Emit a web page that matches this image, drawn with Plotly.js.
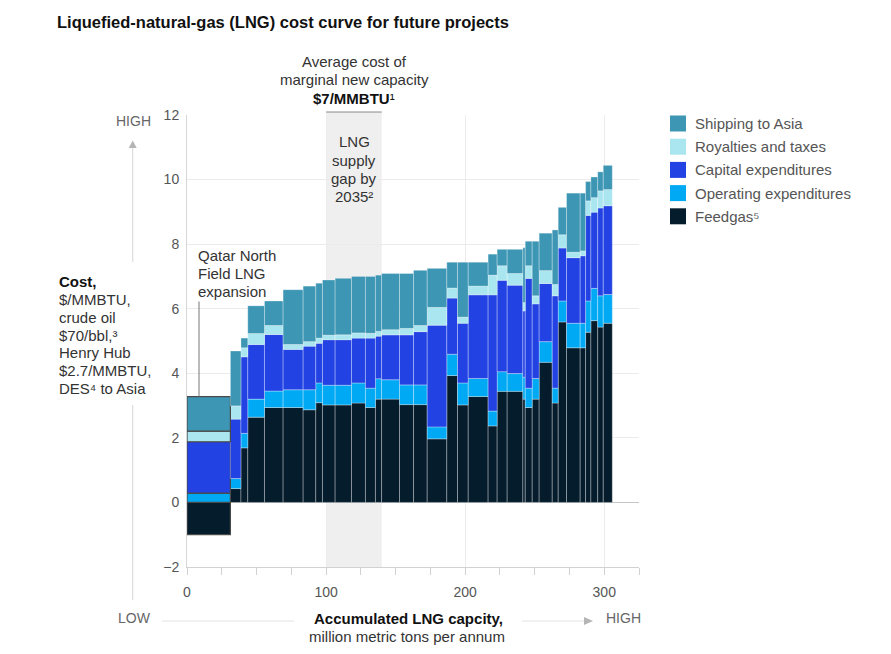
<!DOCTYPE html>
<html>
<head>
<meta charset="utf-8">
<script src="https://cdn.plot.ly/plotly-3.0.1.min.js"></script>
<style>html,body{margin:0;padding:0;background:#fff}#chart{width:891px;height:654px}</style>
</head>
<body>
<div id="chart"></div>
<script>
// Capacity of each project (million metric tons per annum) – bar widths along x
const capacity = [31.2,7.6,4.9,12.0,13.4,14.4,9.1,4.8,9.1,11.8,10.0,7.2,4.4,12.9,10.1,9.8,14.1,7.7,7.7,14.3,6.5,7.2,11.3,1.7,5.0,5.0,9.4,4.3,6.0,9.8,3.9,3.8,4.9,4.0,6.5];
// Cost components, $/MMBTU
const feedgas   = [-1.00,0.43,1.69,2.64,2.94,2.94,2.87,3.09,3.02,3.02,3.08,2.94,3.20,3.20,3.03,3.03,1.97,3.93,3.02,3.28,2.37,3.44,3.44,3.20,2.94,3.20,4.34,3.08,5.59,4.79,4.79,5.27,5.63,5.43,5.55];
const opex      = [0.29,0.31,0.45,0.56,0.51,0.55,0.62,0.61,0.61,0.61,0.62,0.60,0.63,0.60,0.61,0.61,0.37,0.66,0.68,0.56,0.46,0.61,0.55,0.68,0.60,0.64,0.64,0.46,0.65,0.76,0.76,0.97,1.00,0.97,0.89];
const capex     = [1.59,1.84,2.37,1.69,1.75,1.25,1.35,1.23,1.41,1.41,1.39,1.55,1.32,1.39,1.55,1.65,3.15,1.74,1.85,2.59,3.60,2.83,2.74,2.05,3.40,2.31,1.80,2.86,1.64,2.03,2.09,2.65,2.36,2.72,2.75];
const royalties = [0.33,0.41,0.28,0.34,0.28,0.15,0.14,0.16,0.14,0.15,0.16,0.15,0.15,0.16,0.20,0.19,0.55,0.31,0.19,0.27,0.61,0.45,0.36,0.26,0.39,0.25,0.40,0.35,0.41,0.17,0.15,0.45,0.45,0.53,0.50];
const shipping  = [1.07,1.70,0.30,0.86,0.76,1.70,1.72,1.70,1.71,1.75,1.75,1.76,1.74,1.74,1.70,1.71,1.21,0.80,1.70,0.74,0.65,0.51,0.75,1.70,0.76,1.69,1.16,1.69,0.85,1.83,1.79,0.60,0.64,0.59,0.75];

const seriesNames  = ['Feedgas⁵','Operating expenditures','Capital expenditures','Royalties and taxes','Shipping to Asia'];
const seriesColors = ['#051c2c','#00a9f4','#2242e4','#aae6f0','#3c96b4'];
const seriesValues = [feedgas, opex, capex, royalties, shipping];

const xTickVals = [0,100,200,300];
const gapStart = 100, gapEnd = 140;

// Bar positions built from cumulative capacity
const xMid = [];
let acc = 0;
capacity.forEach(w => { xMid.push(acc + w/2); acc += w; });

const lineColors = capacity.map((_, i) => i === 0 ? '#4a4a4a' : 'rgba(255,255,255,0.3)');
const lineWidths = capacity.map((_, i) => i === 0 ? 1.2 : 1);

const traces = seriesValues.map((vals, k) => ({
  type: 'bar',
  x: xMid,
  y: vals,
  width: capacity,
  name: seriesNames[k],
  marker: {color: seriesColors[k], line: {color: lineColors, width: lineWidths}},
  hoverinfo: 'skip',
  showlegend: false
}));

// Plot area in pixels
const L = 187, T = 115, W = 452, H = 452, B = T + H;
const px = x => (x - L) / W;
const py = y => (B - y) / H;

const FONT = 'Liberation Sans, Arial, Helvetica, sans-serif';
const annotations = [];
const shapes = [];

function txt(text, x, y, opts) {
  annotations.push(Object.assign({
    text: text, xref: 'paper', yref: 'paper', x: px(x), y: py(y),
    xanchor: 'left', yanchor: 'middle', showarrow: false,
    font: {family: FONT, size: 15, color: '#333'}
  }, opts || {}));
}

// Header annotation
txt('Average cost of', 354, 62, {xanchor: 'center'});
txt('marginal new capacity', 354, 80, {xanchor: 'center'});
txt('<b>$7/MMBTU</b>¹', 354, 98, {xanchor: 'center', font: {family: FONT, size: 15, color: '#111'}});

// Supply gap text
['LNG','supply','gap by','2035²'].forEach((t, i) =>
  txt(t, 354, 141.7 + 18.3 * i, {xanchor: 'center'}));

// Qatar
['Qatar North','Field LNG','expansion'].forEach((t, i) =>
  txt(t, 195.5, 255 + 18.3 * i));

// Cost block
const costLines = ['<b>Cost,</b>','$/MMBTU,','crude oil','$70/bbl,³','Henry Hub','$2.7/MMBTU,','DES⁴ to Asia'];
costLines.forEach((t, i) => txt(t, 56.5, 281.7 + 17.8 * i, {font: {family: FONT, size: 15, color: i === 0 ? '#111' : '#333'}}));

// Axis direction labels
txt('HIGH', 133, 120.5, {xanchor: 'center', font: {family: FONT, size: 14, color: '#666'}});
txt('LOW', 134, 618, {xanchor: 'center', font: {family: FONT, size: 14, color: '#666'}});
txt('HIGH', 623, 618, {xanchor: 'center', font: {family: FONT, size: 14, color: '#666'}});
txt('<b>Accumulated LNG capcity,</b>', 408, 618, {xanchor: 'center', font: {family: FONT, size: 15, color: '#111'}});
txt('million metric tons per annum', 407, 636, {xanchor: 'center'});

// Arrow shafts
shapes.push({type: 'line', xref: 'paper', yref: 'paper', x0: px(132.7), x1: px(132.7), y0: py(147), y1: py(262), line: {color: '#d6d6d6', width: 1}});
shapes.push({type: 'line', xref: 'paper', yref: 'paper', x0: px(132.7), x1: px(132.7), y0: py(405), y1: py(600), line: {color: '#d6d6d6', width: 1}});
shapes.push({type: 'line', xref: 'paper', yref: 'paper', x0: px(162), x1: px(294), y0: py(621), y1: py(621), line: {color: '#e3e3e3', width: 1}});
shapes.push({type: 'line', xref: 'paper', yref: 'paper', x0: px(522), x1: px(584), y0: py(621), y1: py(621), line: {color: '#e3e3e3', width: 1}});
// Arrow heads
function tri(pts) {
  return {type: 'path', xref: 'paper', yref: 'paper',
    path: 'M' + pts.map(p => px(p[0]) + ',' + py(p[1])).join(' L') + ' Z',
    fillcolor: '#b5b5b5', line: {width: 0}};
}
shapes.push(tri([[132.7, 140.5], [128.7, 148], [136.7, 148]]));
shapes.push(tri([[593, 621], [584, 617], [584, 625]]));

// Qatar pointer line
shapes.push({type: 'line', xref: 'paper', yref: 'paper', x0: px(199), x1: px(199), y0: py(301.5), y1: py(396.5), line: {color: '#777', width: 1}});

// Supply gap band
shapes.push({type: 'rect', xref: 'x', yref: 'paper', x0: gapStart, x1: gapEnd, y0: 0, y1: py(112), fillcolor: '#efefef', line: {width: 0}, layer: 'below'});
shapes.push({type: 'line', xref: 'x', yref: 'paper', x0: gapStart, x1: gapEnd, y0: py(112), y1: py(112), line: {color: '#8a8a8a', width: 1}});

// Custom legend (top to bottom)
const legendOrder = [4, 3, 2, 1, 0];
legendOrder.forEach((k, i) => {
  const cy = 123.5 + 23.2 * i;
  shapes.push({type: 'rect', xref: 'paper', yref: 'paper', x0: px(670), x1: px(686), y0: py(cy + 8), y1: py(cy - 8),
    fillcolor: seriesColors[k], line: {width: 0}});
  txt(seriesNames[k], 692.5, cy, {font: {family: FONT, size: 15, color: '#555'}});
});

const layout = {
  width: 891, height: 654,
  margin: {l: L, r: 891 - L - W, t: T, b: 654 - B},
  paper_bgcolor: '#fff', plot_bgcolor: '#fff',
  font: {family: FONT, size: 14, color: '#555'},
  barmode: 'relative',
  showlegend: false,
  title: {text: '<b>Liquefied-natural-gas (LNG) cost curve for future projects</b>',
    x: 57 / 891, xanchor: 'left', xref: 'container', y: 1 - 22 / 654, yanchor: 'middle', yref: 'container',
    font: {family: FONT, size: 16.5, color: '#111'}},
  xaxis: {
    range: [0, 325], tickvals: xTickVals, ticktext: xTickVals.map(String),
    showgrid: true, gridcolor: '#ececec', gridwidth: 1,
    zeroline: false, showline: true, linecolor: '#d2d2d2', linewidth: 1,
    ticks: 'outside', ticklen: 7, tickcolor: '#d2d2d2',
    minor: {dtick: 25, tick0: 0, ticks: 'outside', ticklen: 7, tickcolor: '#d2d2d2', showgrid: false},
    tickfont: {family: FONT, size: 14, color: '#555'}, ticklabelstandoff: 5,
    fixedrange: true
  },
  yaxis: {
    range: [-2, 12], dtick: 2, tick0: 0,
    showgrid: true, gridcolor: '#ebebeb', gridwidth: 1,
    zeroline: true, zerolinecolor: '#c6c6c6', zerolinewidth: 1.5,
    showline: true, linecolor: '#d6d6d6', linewidth: 1,
    ticks: '', tickfont: {family: FONT, size: 14, color: '#555'}, ticklabelstandoff: 4,
    fixedrange: true
  },
  shapes: shapes,
  annotations: annotations
};

Plotly.newPlot('chart', traces, layout, {displayModeBar: false, staticPlot: true});
</script>
</body>
</html>
